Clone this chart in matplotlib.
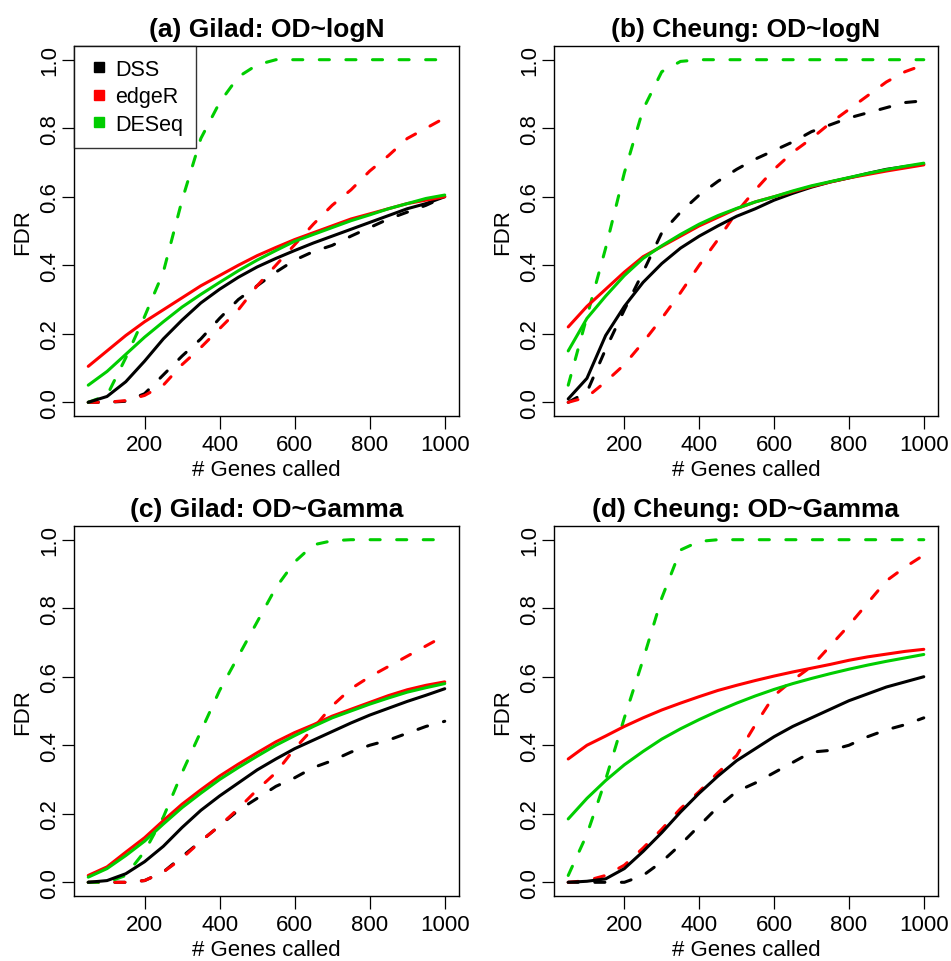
import matplotlib
matplotlib.use("Agg")
import matplotlib.pyplot as plt
from matplotlib.lines import Line2D

plt.rcParams['font.family'] = ['Liberation Sans', 'DejaVu Sans']

# number of genes called
genes = [50, 100, 150, 200, 250, 300, 350, 400, 450, 500,
         550, 600, 650, 700, 750, 800, 850, 900, 950, 1000]

titles = ["(a) Gilad: OD~logN", "(b) Cheung: OD~logN",
          "(c) Gilad: OD~Gamma", "(d) Cheung: OD~Gamma"]
methods = ["DSS", "edgeR", "DESeq"]
colors = ["black", "#FF0000", "#00CD00"]

# (a) Gilad: OD~logN  -- solid / dashed FDR curves
a_dss = [0.0, 0.017, 0.06, 0.12, 0.185, 0.24, 0.29, 0.33, 0.365, 0.395,
         0.42, 0.443, 0.465, 0.485, 0.505, 0.525, 0.545, 0.565, 0.58, 0.60]
a_edger = [0.105, 0.15, 0.195, 0.235, 0.27, 0.305, 0.34, 0.37, 0.40, 0.428,
           0.452, 0.475, 0.495, 0.515, 0.535, 0.55, 0.565, 0.58, 0.59, 0.60]
a_deseq = [0.05, 0.09, 0.14, 0.19, 0.235, 0.278, 0.315, 0.35, 0.384, 0.415,
           0.443, 0.47, 0.49, 0.51, 0.53, 0.547, 0.565, 0.58, 0.595, 0.605]
a_dss_d = [0.0, 0.0, 0.003, 0.025, 0.08, 0.135, 0.185, 0.245, 0.30, 0.34,
           0.38, 0.415, 0.44, 0.458, 0.485, 0.51, 0.535, 0.555, 0.575, 0.60]
a_edger_d = [0.0, 0.0, 0.005, 0.02, 0.05, 0.11, 0.16, 0.215, 0.27, 0.34,
             0.40, 0.46, 0.52, 0.575, 0.62, 0.675, 0.72, 0.77, 0.80, 0.83]
a_deseq_d = [0.0, 0.02, 0.13, 0.25, 0.38, 0.59, 0.77, 0.875, 0.95, 0.985,
             1.0, 1.0, 1.0, 1.0, 1.0, 1.0, 1.0, 1.0, 1.0, 1.0]

# (b) Cheung: OD~logN
b_dss = [0.01, 0.07, 0.195, 0.28, 0.35, 0.405, 0.45, 0.485, 0.515, 0.543,
         0.565, 0.59, 0.61, 0.628, 0.643, 0.655, 0.668, 0.68, 0.688, 0.695]
b_edger = [0.22, 0.28, 0.33, 0.38, 0.425, 0.455, 0.485, 0.515, 0.54, 0.565,
           0.585, 0.60, 0.615, 0.63, 0.643, 0.655, 0.665, 0.675, 0.684, 0.693]
b_deseq = [0.15, 0.245, 0.31, 0.37, 0.42, 0.457, 0.49, 0.52, 0.545, 0.566,
           0.585, 0.60, 0.617, 0.632, 0.644, 0.656, 0.668, 0.679, 0.689, 0.698]
b_dss_d = [0.0, 0.03, 0.155, 0.27, 0.38, 0.495, 0.555, 0.605, 0.645, 0.68,
           0.71, 0.735, 0.76, 0.79, 0.81, 0.83, 0.845, 0.86, 0.875, 0.88]
b_edger_d = [0.0, 0.015, 0.06, 0.11, 0.175, 0.245, 0.32, 0.40, 0.475, 0.555,
             0.62, 0.68, 0.73, 0.77, 0.815, 0.855, 0.895, 0.935, 0.965, 0.985]
b_deseq_d = [0.05, 0.25, 0.45, 0.67, 0.855, 0.965, 0.995, 1.0, 1.0, 1.0,
             1.0, 1.0, 1.0, 1.0, 1.0, 1.0, 1.0, 1.0, 1.0, 1.0]

# (c) Gilad: OD~Gamma
c_dss = [0.0, 0.005, 0.025, 0.06, 0.105, 0.16, 0.21, 0.252, 0.29, 0.328,
         0.36, 0.39, 0.415, 0.44, 0.465, 0.488, 0.508, 0.528, 0.546, 0.565]
c_edger = [0.02, 0.045, 0.088, 0.13, 0.18, 0.228, 0.27, 0.31, 0.345, 0.378,
           0.41, 0.437, 0.46, 0.485, 0.505, 0.525, 0.545, 0.562, 0.575, 0.585]
c_deseq = [0.015, 0.04, 0.078, 0.12, 0.17, 0.218, 0.26, 0.30, 0.335, 0.368,
           0.40, 0.428, 0.455, 0.48, 0.50, 0.52, 0.538, 0.555, 0.568, 0.58]
c_dss_d = [0.0, 0.0, 0.0, 0.005, 0.03, 0.075, 0.12, 0.165, 0.21, 0.245,
           0.28, 0.305, 0.335, 0.355, 0.38, 0.40, 0.415, 0.435, 0.455, 0.47]
c_edger_d = [0.0, 0.0, 0.0, 0.005, 0.03, 0.07, 0.12, 0.165, 0.215, 0.27,
             0.32, 0.39, 0.45, 0.515, 0.565, 0.60, 0.63, 0.66, 0.69, 0.72]
c_deseq_d = [0.0, 0.0, 0.02, 0.09, 0.19, 0.32, 0.44, 0.56, 0.66, 0.76,
             0.86, 0.935, 0.985, 0.997, 1.0, 1.0, 1.0, 1.0, 1.0, 1.0]

# (d) Cheung: OD~Gamma
d_dss = [0.0, 0.003, 0.01, 0.04, 0.09, 0.145, 0.205, 0.26, 0.31, 0.355,
         0.39, 0.425, 0.455, 0.48, 0.505, 0.53, 0.55, 0.57, 0.585, 0.60]
d_edger = [0.36, 0.40, 0.427, 0.455, 0.48, 0.503, 0.523, 0.542, 0.56, 0.575,
           0.589, 0.602, 0.614, 0.625, 0.636, 0.648, 0.658, 0.666, 0.674, 0.68]
d_deseq = [0.185, 0.245, 0.297, 0.343, 0.382, 0.418, 0.448, 0.475, 0.50, 0.523,
           0.544, 0.563, 0.58, 0.595, 0.609, 0.622, 0.634, 0.645, 0.655, 0.665]
d_dss_d = [0.0, 0.0, 0.0, 0.0, 0.02, 0.06, 0.11, 0.165, 0.22, 0.265,
           0.29, 0.32, 0.35, 0.38, 0.385, 0.40, 0.425, 0.445, 0.46, 0.48]
d_edger_d = [0.0, 0.005, 0.02, 0.05, 0.10, 0.155, 0.215, 0.265, 0.32, 0.37,
             0.46, 0.545, 0.59, 0.63, 0.69, 0.75, 0.815, 0.88, 0.92, 0.955]
d_deseq_d = [0.02, 0.14, 0.30, 0.48, 0.65, 0.83, 0.97, 0.995, 1.0, 1.0,
             1.0, 1.0, 1.0, 1.0, 1.0, 1.0, 1.0, 1.0, 1.0, 1.0]

panels = [
    (a_dss, a_edger, a_deseq, a_dss_d, a_edger_d, a_deseq_d),
    (b_dss, b_edger, b_deseq, b_dss_d, b_edger_d, b_deseq_d),
    (c_dss, c_edger, c_deseq, c_dss_d, c_edger_d, c_deseq_d),
    (d_dss, d_edger, d_deseq, d_dss_d, d_edger_d, d_deseq_d),
]

fig = plt.figure(figsize=(9.51, 9.62), dpi=100)
W, H = 951.0, 962.0
boxes = [(74, 47, 459, 417), (554, 47, 938, 417),
         (74, 527, 459, 897), (554, 527, 938, 897)]

lw = 2.2
for i, (box, data) in enumerate(zip(boxes, panels)):
    l, t, r, b = box
    ax = fig.add_axes([l / W, 1 - b / H, (r - l) / W, (b - t) / H])
    solid = data[:3]
    dashed = data[3:]
    for ys, c in zip(dashed, colors):
        ax.plot(genes, ys, color=c, lw=lw, dashes=(3.3, 5.4),
                dash_capstyle='round', solid_capstyle='round')
    for ys, c in zip(solid, colors):
        ax.plot(genes, ys, color=c, lw=lw, solid_capstyle='round')

    ax.set_xlim(12, 1038)
    ax.set_ylim(-0.04, 1.04)
    ax.set_xticks([200, 400, 600, 800, 1000])
    ax.set_yticks([0.0, 0.2, 0.4, 0.6, 0.8, 1.0])
    ax.set_yticklabels(["0.0", "0.2", "0.4", "0.6", "0.8", "1.0"],
                       rotation=90, va='center')
    ax.tick_params(direction='out', length=9, width=0.9, labelsize=16,
                   color='black')
    ax.tick_params(axis='x', pad=4)
    ax.tick_params(axis='y', pad=1)
    for sp in ax.spines.values():
        sp.set_linewidth(1.0)
    ax.set_xlabel("# Genes called", fontsize=16, labelpad=3)
    ax.set_ylabel("FDR", fontsize=16, labelpad=4)
    ax.set_title(titles[i], fontsize=19, fontweight='bold', pad=7)

    if i == 0:
        handles = [Line2D([], [], color=c, marker='s', ls='none',
                          markersize=7.5) for c in colors]
        leg = ax.legend(handles, methods, loc='upper left', fontsize=15.5,
                        frameon=True, fancybox=False, borderaxespad=0,
                        handlelength=1.1, handletextpad=0.2,
                        borderpad=0.6, labelspacing=0.3)
        leg.get_frame().set_edgecolor('black')
        leg.get_frame().set_linewidth(1.0)

fig.savefig("out.png", dpi=100)
